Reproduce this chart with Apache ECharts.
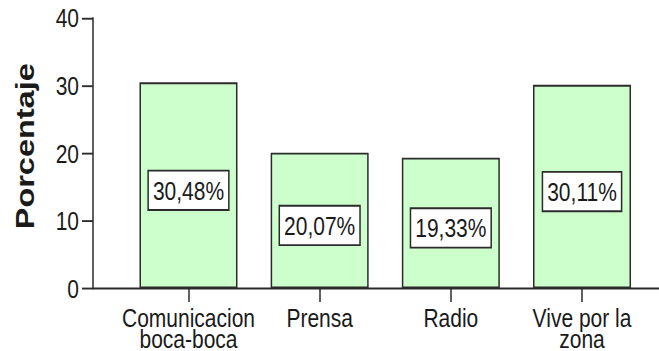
<!DOCTYPE html>
<html>
<head>
<meta charset="utf-8">
<script src="https://cdn.jsdelivr.net/npm/echarts@6/dist/echarts.min.js"></script>
<style>
  html, body { margin: 0; padding: 0; background: #fff; overflow: hidden; }
  #wrap { width: 659px; height: 351px; overflow: hidden; }
  /* the chart is laid out at a shorter height and stretched vertically */
  #chart { width: 659px; height: 281px; transform-origin: 0 0; transform: scaleY(1.24911); }
</style>
</head>
<body>
<div id="wrap"><div id="chart"></div></div>
<script>
// Source channels and their share of respondents (%)
const categories = ['Comunicacion\nboca-boca', 'Prensa', 'Radio', 'Vive por la\nzona'];
const percentages = [30.48, 20.07, 19.33, 30.11];
const yMin = 0;
const yMax = 40;
const yStep = 10;

const FONT = '"Liberation Sans", Arial, sans-serif';
const INK = '#1a1a1a';
const LINE = '#2b2b2b';

const chart = echarts.init(document.getElementById('chart'), null, { renderer: 'svg' });

const gridTop = 14.4;
const gridBottom = 50.2;

chart.setOption({
  animation: false,
  backgroundColor: '#ffffff',
  grid: [
    // frame grid: carries the value axis and the full-width baseline
    { left: 93, right: 0, top: gridTop, bottom: gridBottom, containLabel: false, outerBoundsMode: 'none' },
    // bar grid
    { left: 122.9, right: 11.4, top: gridTop, bottom: gridBottom, containLabel: false, outerBoundsMode: 'none' }
  ],
  xAxis: [
    {
      gridIndex: 0, type: 'value', min: 0, max: 1,
      axisLine: { show: true, onZero: false, lineStyle: { color: LINE, width: 1.5 } },
      axisTick: { show: false }, axisLabel: { show: false }, splitLine: { show: false }
    },
    {
      gridIndex: 1, type: 'category', data: categories,
      axisLine: { show: false },
      axisTick: { show: true, alignWithLabel: true, length: 11, lineStyle: { color: LINE, width: 1.5 } },
      axisLabel: {
        show: true, interval: 0, margin: 15, color: INK,
        fontFamily: FONT, fontSize: 21, lineHeight: 17, align: 'center'
      },
      splitLine: { show: false }
    }
  ],
  yAxis: [
    {
      gridIndex: 0, type: 'value', min: yMin, max: yMax, interval: yStep,
      name: 'Porcentaje', nameLocation: 'middle', nameGap: 55, nameRotate: 90,
      nameTextStyle: { fontFamily: FONT, fontWeight: 'bold', fontSize: 26, color: INK, padding: [0, 0, 0, 11] },
      axisLine: { show: true, lineStyle: { color: LINE, width: 1.5 } },
      axisTick: { show: true, inside: false, length: 11, lineStyle: { color: LINE, width: 1.5 } },
      axisLabel: { show: true, margin: 14, color: INK, fontFamily: FONT, fontSize: 21 },
      splitLine: { show: false }
    },
    {
      gridIndex: 1, type: 'value', min: yMin, max: yMax, interval: yStep, show: false,
      splitLine: { show: false }
    }
  ],
  series: [
    {
      type: 'bar',
      xAxisIndex: 1,
      yAxisIndex: 1,
      data: percentages,
      barWidth: 98,
      itemStyle: { color: '#ccffcc', borderColor: LINE, borderWidth: 1.5 },
      label: {
        show: true,
        position: 'inside',
        offset: [0, 4],
        formatter: p => p.value.toFixed(2).replace('.', ',') + '%',
        fontFamily: FONT,
        fontSize: 21,
        lineHeight: 21,
        color: INK,
        backgroundColor: '#ffffff',
        borderColor: LINE,
        borderWidth: 1.5,
        padding: [4.5, 4, 4.5, 4]
      }
    }
  ]
});
</script>
</body>
</html>
